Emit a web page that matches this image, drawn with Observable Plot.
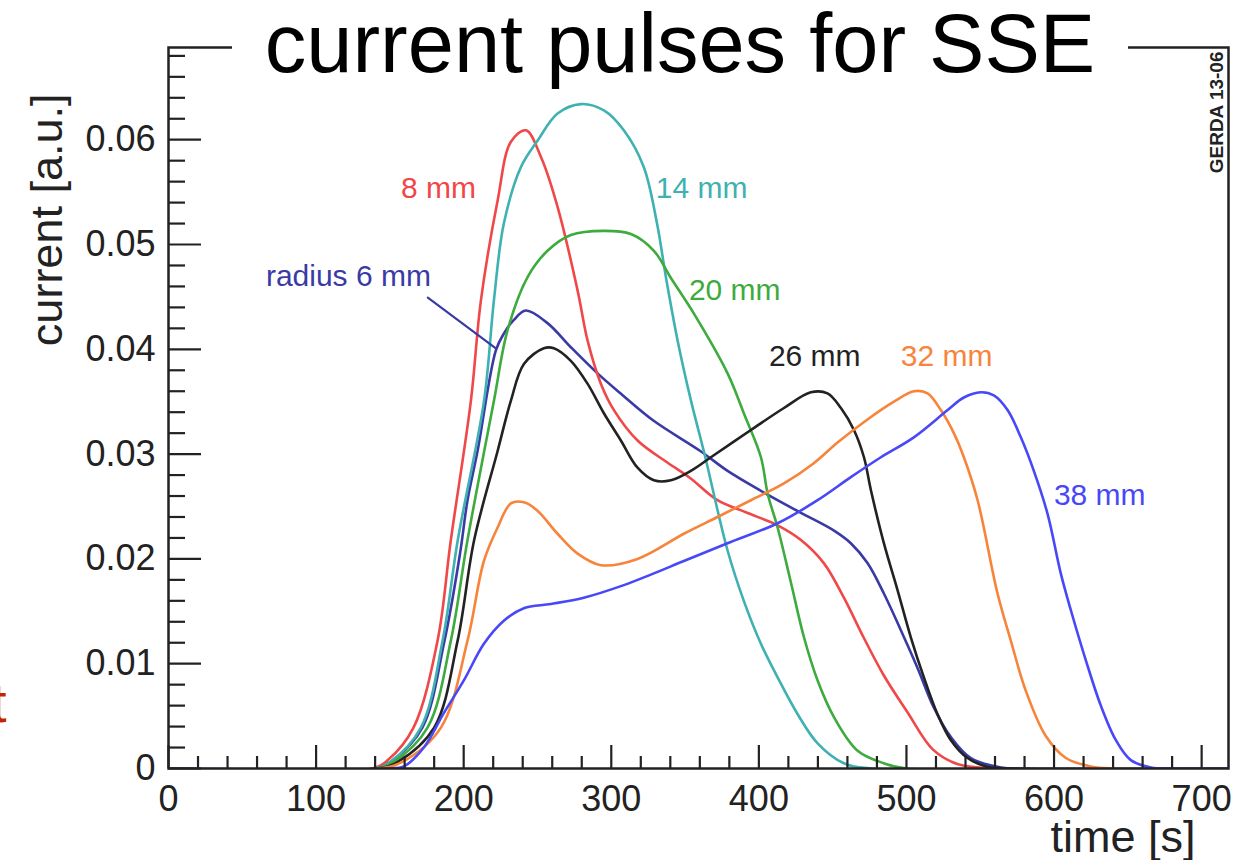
<!DOCTYPE html>
<html>
<head>
<meta charset="utf-8">
<script src="https://cdn.jsdelivr.net/npm/d3@7"></script>
<script src="https://cdn.jsdelivr.net/npm/@observablehq/plot@0.6"></script>
<style>
  html, body { margin: 0; padding: 0; background: #fff; overflow: hidden; }
  #wrap { position: relative; width: 1237px; height: 860px; font-family: "Liberation Sans", Arial, Helvetica, sans-serif; }
  #title { position: absolute; left: 232px; width: 896px; top: 2px; font-size: 83px; line-height: 83px;
           text-align: center; background: #fff; color: #000; white-space: nowrap; }
  #frag { position: absolute; left: -9px; top: 675px; font-size: 56px; line-height: 56px; color: #c0250a; }
</style>
</head>
<body>
<div id="wrap">
  <div id="chart"></div>
  <div id="title">current pulses for SSE</div>
  <span id="frag">t</span>
</div>
<script>
// ---- data (time [s], current [a.u.]) ----
const seriesNames = ["radius 6 mm", "8 mm", "14 mm", "20 mm", "26 mm", "32 mm", "38 mm"];

const pulse6mm = [[0,0],[140,0],[152,0.0008],[172,0.0039],[187,0.0122],[197.5,0.0205],[202.6,0.0256],[209.4,0.0303],[221.8,0.0399],[227.2,0.0415],[234,0.0428],[242.1,0.0437],[256.8,0.0425],[272.6,0.0402],[290.7,0.0377],[306.2,0.0358],[328.5,0.0332],[360.3,0.0303],[378.8,0.0284],[401.4,0.0265],[428.5,0.0244],[450.9,0.0227],[462.3,0.0215],[473.6,0.0196],[484.7,0.0167],[496.2,0.0132],[507.5,0.0096],[518.6,0.0058],[530.1,0.003],[543.6,0.001],[564,0.0001],[580,0],[720,0]];
const pulse8mm = [[0,0],[138,0],[148.6,0.0008],[166,0.0039],[182.3,0.0122],[191.3,0.0218],[204.9,0.0351],[211.7,0.0447],[223,0.0542],[232,0.0598],[242.2,0.0609],[252.5,0.0583],[263.6,0.0536],[277.2,0.0456],[284,0.0408],[293,0.0367],[301.8,0.0342],[317.8,0.0313],[338,0.0292],[353.6,0.0277],[372,0.0256],[392,0.0244],[412.7,0.0232],[428.5,0.0218],[444,0.0196],[457.6,0.0163],[471,0.0125],[484.6,0.0089],[501,0.0053],[518,0.0018],[535,0.0004],[560,0],[720,0]];
const pulse14mm = [[0,0],[140,0],[150,0.0006],[171,0.0039],[185.7,0.0122],[196,0.0218],[213.8,0.0351],[220.5,0.0447],[227.2,0.052],[238.8,0.0574],[250,0.0599],[263.6,0.0625],[279.4,0.0634],[295,0.0628],[308.5,0.0609],[322,0.0574],[331,0.052],[337,0.0469],[345,0.0408],[354,0.0351],[363,0.0301],[378.8,0.0208],[389.8,0.016],[401.4,0.0119],[412.7,0.0087],[426.2,0.0052],[439.8,0.0024],[457.6,0.0005],[476,0],[720,0]];
const pulse20mm = [[0,0],[140,0],[152,0.0006],[175.5,0.0039],[191.3,0.0122],[202.6,0.0218],[220.5,0.0351],[229.7,0.0418],[243.3,0.0469],[256.8,0.0494],[272.6,0.0509],[295,0.0513],[313.3,0.051],[328.9,0.0494],[340.4,0.0468],[356,0.0434],[378.8,0.0377],[389.8,0.0339],[401.4,0.0297],[406,0.0262],[412.7,0.023],[421.8,0.0177],[430.6,0.0125],[439.8,0.0084],[450.9,0.0049],[466.9,0.0017],[484.7,0.0005],[500,0],[720,0]];
const pulse26mm = [[0,0],[142,0],[155,0.0006],[180,0.0039],[195.9,0.0122],[207.1,0.0218],[223,0.0303],[232,0.0351],[240.8,0.0386],[254.3,0.0401],[261.1,0.0401],[272.6,0.0389],[284,0.0367],[295,0.0339],[306.5,0.0313],[317.8,0.0287],[328.9,0.0275],[340.4,0.0275],[353.9,0.0284],[367.5,0.0297],[394.6,0.0323],[417,0.0344],[435.2,0.0359],[446.5,0.0358],[455.6,0.0344],[464.4,0.0323],[471.2,0.0297],[476,0.0265],[484.7,0.0215],[494,0.017],[503,0.0125],[511.8,0.0087],[521,0.0052],[530.1,0.0027],[541.4,0.001],[554,0.0002],[570,0],[720,0]];
const pulse32mm = [[0,0],[142,0],[158,0.0006],[184.6,0.0039],[202.6,0.0122],[213.7,0.0198],[223,0.023],[232,0.0253],[240.8,0.0254],[250,0.0246],[263.6,0.0224],[277.2,0.0205],[293,0.0194],[317.8,0.02],[349.2,0.0224],[372,0.024],[394.6,0.0256],[417,0.0272],[437,0.0291],[453.3,0.0311],[473.6,0.0333],[491.5,0.035],[505,0.036],[514.3,0.0358],[523.3,0.0342],[532.1,0.032],[538.9,0.0297],[548.2,0.0256],[561.7,0.0167],[570.7,0.0122],[580.9,0.0074],[594.4,0.0031],[608,0.001],[625,0.0002],[640,0],[720,0]];
const pulse38mm = [[0,0],[148,0],[159.5,0.0002],[173,0.002],[186.6,0.0053],[200.1,0.0084],[213.7,0.0119],[227.2,0.0141],[240.8,0.0153],[259.1,0.0157],[281.4,0.0163],[308.5,0.0175],[326.8,0.0185],[349.2,0.0198],[378.8,0.0215],[412.7,0.0234],[439.8,0.0256],[462.3,0.0278],[482.7,0.0297],[505,0.0316],[527.9,0.0342],[538.9,0.0354],[550.4,0.0359],[559.2,0.0356],[568.5,0.0342],[577.5,0.0316],[586.3,0.0284],[595.6,0.0243],[604.6,0.0186],[611.4,0.0151],[621.6,0.0103],[631.7,0.006],[641.9,0.0027],[652,0.0008],[665.6,0.0001],[680,0],[720,0]];

const xMajorTicks = [0, 100, 200, 300, 400, 500, 600, 700];
const xTickLabels = ["0", "100", "200", "300", "400", "500", "600", "700"];
const yMajorTicks = [0, 0.01, 0.02, 0.03, 0.04, 0.05, 0.06];
const yTickLabels = ["0", "0.01", "0.02", "0.03", "0.04", "0.05", "0.06"];

// annotation anchors (data units): left edge / baseline of each curve label
const labelNames = ["8 mm", "14 mm", "radius 6 mm", "20 mm", "26 mm", "32 mm", "38 mm"];
const labelTimes = [157.5, 330.2, 66, 352.6, 406.8, 496.2, 599.9];
const labelCurrents = [0.0544, 0.0544, 0.0460, 0.04475, 0.03845, 0.03845, 0.0251];
const pointerTimes = [175.7, 221.8];
const pointerCurrents = [0.04494, 0.0401];

// ---- build tables ----
const allPulses = [pulse6mm, pulse8mm, pulse14mm, pulse20mm, pulse26mm, pulse32mm, pulse38mm];
const rows = [];
allPulses.forEach((p, i) => p.forEach(([t, v]) => rows.push({name: seriesNames[i], t, v})));
const labels = labelNames.map((name, i) => ({name, t: labelTimes[i], v: labelCurrents[i]}));
const pointer = pointerTimes.map((t, i) => ({t, v: pointerCurrents[i]}));

const xMinorTicks = d3.range(0, 719, 20).filter(d => d % 100 !== 0);
const yMinorTicks = d3.range(0, 35).map(k => k * 0.002).filter((d, k) => k % 5 !== 0);

// ---- layout ----
const W = 1237, H = 860;
const mL = 168, mR = 9, mT = 47, mB = 92;
const frameW = W - mL - mR, frameH = H - mT - mB;

const colors = ["#3a3aa6", "#f04848", "#3fb1b1", "#3dab3d", "#222222", "#f7843a", "#4848f8"];
const font = "'Liberation Sans', Arial, Helvetica, sans-serif";

const chart = Plot.plot({
  width: W, height: H,
  marginLeft: mL, marginRight: mR, marginTop: mT, marginBottom: mB,
  style: {fontFamily: font, color: "#222", background: "#fff", overflow: "visible"},
  x: {domain: [0, 718.2]},
  y: {domain: [0, 0.0688]},
  color: {domain: seriesNames, range: colors},
  marks: [
    Plot.line(rows, {x: "t", y: "v", z: "name", stroke: "name", strokeWidth: 2.6, curve: "catmull-rom", clip: true}),
    Plot.line(pointer, {x: "t", y: "v", stroke: colors[0], strokeWidth: 2.2}),
    Plot.text(labels, {x: "t", y: "v", text: "name", fill: "name", textAnchor: "start", lineAnchor: "bottom", fontSize: 30}),
    // inward ROOT-style ticks
    Plot.tickX(xMajorTicks, {x: d => d, insetTop: frameH - 23, stroke: "#222", strokeWidth: 2.2}),
    Plot.tickX(xMinorTicks, {x: d => d, insetTop: frameH - 12, stroke: "#222", strokeWidth: 2.2}),
    Plot.tickY(yMajorTicks, {y: d => d, insetRight: frameW - 33, stroke: "#222", strokeWidth: 2.2}),
    Plot.tickY(yMinorTicks, {y: d => d, insetRight: frameW - 17, stroke: "#222", strokeWidth: 2.2}),
    Plot.axisX(xMajorTicks, {anchor: "bottom", tickSize: 0, tickPadding: 17, fontSize: 36, label: null,
      tickFormat: d => xTickLabels[xMajorTicks.indexOf(d)]}),
    Plot.axisY(yMajorTicks, {anchor: "left", tickSize: 0, tickPadding: 13, fontSize: 36, label: null,
      tickFormat: d => yTickLabels[yMajorTicks.indexOf(d)]}),
    Plot.frame({stroke: "#222", strokeWidth: 2.5}),
    Plot.text(["current [a.u.]"], {frameAnchor: "top-left", text: d => d, rotate: -90, textAnchor: "end",
      lineAnchor: "bottom", dx: -107, dy: 46, fontSize: 45, fill: "#222"}),
    Plot.text(["time [s]"], {frameAnchor: "bottom-right", text: d => d, textAnchor: "end",
      lineAnchor: "bottom", dx: -33, dy: 83, fontSize: 45, fill: "#222"}),
    Plot.text(["GERDA 13-06"], {frameAnchor: "top-right", text: d => d, rotate: -90, textAnchor: "end",
      lineAnchor: "bottom", dx: -6, dy: 4, fontSize: 19, fontWeight: "bold", fill: "#222"})
  ]
});
document.getElementById("chart").appendChild(chart);
</script>
</body>
</html>
